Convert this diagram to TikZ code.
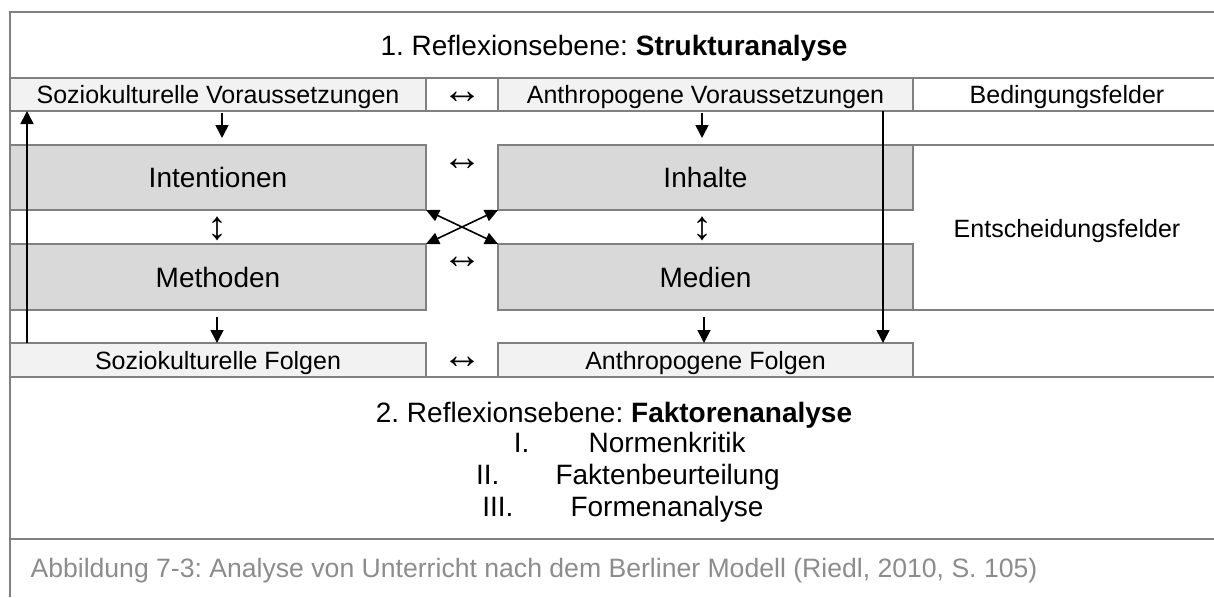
\documentclass[tikz,border=0pt]{standalone}
\usepackage{fontspec}
\setmainfont{Liberation Sans}
\usetikzlibrary{arrows.meta}
\frenchspacing

\definecolor{rulegray}{HTML}{808080}
\definecolor{rowfill}{HTML}{F2F2F2}
\definecolor{boxfill}{HTML}{D9D9D9}
\definecolor{capgray}{HTML}{8C8C8C}

\newcommand{\smalltext}{\fontsize{25}{30}\selectfont}
\newcommand{\bigtext}{\fontsize{28}{32}\selectfont}
\newcommand{\captext}{\fontsize{26.6}{31}\selectfont}
\newcommand{\arrowtext}{\fontsize{40}{44}\selectfont}

\begin{document}
\begin{tikzpicture}[x=1pt, y=-1pt]
    \tikzstyle{rule}=[draw=rulegray, line width=1.5pt]
    \tikzstyle{field}=[rule, fill=rowfill, inner sep=0pt, outer sep=0pt, minimum height=33pt, text height=18pt, text depth=0pt, font=\smalltext]
    \tikzstyle{factor}=[rule, fill=boxfill, inner sep=0pt, outer sep=0pt, minimum height=66pt, text height=20pt, text depth=0pt, font=\bigtext]
    \tikzstyle{plain}=[inner sep=0pt, text height=18pt, text depth=0pt, font=\smalltext]
    \tikzstyle{glyph}=[inner sep=0pt, font=\arrowtext]
    \tikzstyle{flow}=[-{Triangle[width=13pt,length=13pt]}, line width=1.6pt]
    \tikzstyle{both}=[{Triangle[width=12pt,length=13pt]}-{Triangle[width=12pt,length=13pt]}, line width=1.6pt]

    \useasboundingbox (0,0) rectangle (1214,597);

    % table rules
    \draw [rule] (1221,12) -- (10,12) -- (10,597);
    \draw [rule] (10,78) -- (1221,78);
    \draw [rule] (10,111) -- (1221,111);
    \draw [rule] (913,145) -- (1221,145);
    \draw [rule] (913,310) -- (1221,310);
    \draw [rule] (10,377) -- (1221,377);
    \draw [rule] (10,539) -- (1221,539);

    \node (ebene1) at (614,55) [anchor=base, font=\bigtext] {1. Reflexionsebene: \textbf{Strukturanalyse}};

    % Bedingungsfelder
    \node (svor) at (218,94.5) [field, minimum width=416pt] {Soziokulturelle Voraussetzungen};
    \node (avor) at (705.5,94.5) [field, minimum width=415pt] {Anthropogene Voraussetzungen};
    \node (vor-x) at (462,98) [glyph] {↔};
    \node (bed) at (1067,94.5) [plain] {Bedingungsfelder};

    % Entscheidungsfelder
    \node (int) at (218,177.5) [factor, minimum width=416pt, minimum height=65pt] {Intentionen};
    \node (inh) at (705.5,177.5) [factor, minimum width=415pt, minimum height=65pt] {Inhalte};
    \node (met) at (218,277) [factor, minimum width=416pt] {Methoden};
    \node (med) at (705.5,277) [factor, minimum width=415pt] {Medien};
    \node (int-x) at (462,165) [glyph] {↔};
    \node (met-x) at (462,263) [glyph] {↔};
    \node (left-y) at (217,229) [glyph] {↕};
    \node (right-y) at (702,229) [glyph] {↕};
    \node (ent) at (1067,228.5) [plain] {Entscheidungsfelder};

    % Folgen
    \node (sfol) at (218,360) [field, minimum width=416pt, minimum height=34pt] {Soziokulturelle Folgen};
    \node (afol) at (705.5,360) [field, minimum width=415pt, minimum height=34pt] {Anthropogene Folgen};
    \node (fol-x) at (462,363) [glyph] {↔};

    \draw [flow, shorten <=2pt, shorten >=7pt] ([xshift=4pt]svor.south) -- ([xshift=4pt]int.north);
    \draw [flow, shorten <=2pt, shorten >=7pt] ([xshift=-3.5pt]avor.south) -- ([xshift=-3.5pt]inh.north);
    \draw [flow, shorten <=7pt] ([xshift=-1pt]met.south) -- ([xshift=-1pt]sfol.north);
    \draw [flow, shorten <=7pt] ([xshift=-1.5pt]med.south) -- ([xshift=-1.5pt]afol.north);
    \draw [flow] ([xshift=17pt]sfol.north west) -- ([xshift=17pt]svor.south west);
    \draw [flow] ([xshift=-30pt]avor.south east) -- ([xshift=-30pt]afol.north east);

    \draw [both] (int.south east) -- (med.north west);
    \draw [both] (met.north east) -- (inh.south west);

    % zweite Ebene
    \node (ebene2) at (614,422) [anchor=base, font=\bigtext] {2. Reflexionsebene: \textbf{Faktorenanalyse}};
    \node (n1) at (533,452) [anchor=base east, font=\bigtext] {I.};
    \node (t1) at (585,452) [anchor=base west, font=\bigtext] {Normenkritik};
    \node (n2) at (503,484) [anchor=base east, font=\bigtext] {II.};
    \node (t2) at (552,484) [anchor=base west, font=\bigtext] {Faktenbeurteilung};
    \node (n3) at (517,516) [anchor=base east, font=\bigtext] {III.};
    \node (t3) at (567,516) [anchor=base west, font=\bigtext] {Formenanalyse};

    \node (caption) at (27,577) [anchor=base west, font=\captext, text=capgray] {Abbildung 7-3: Analyse von Unterricht nach dem Berliner Modell (Riedl, 2010, S. 105)};
\end{tikzpicture}
\end{document}
